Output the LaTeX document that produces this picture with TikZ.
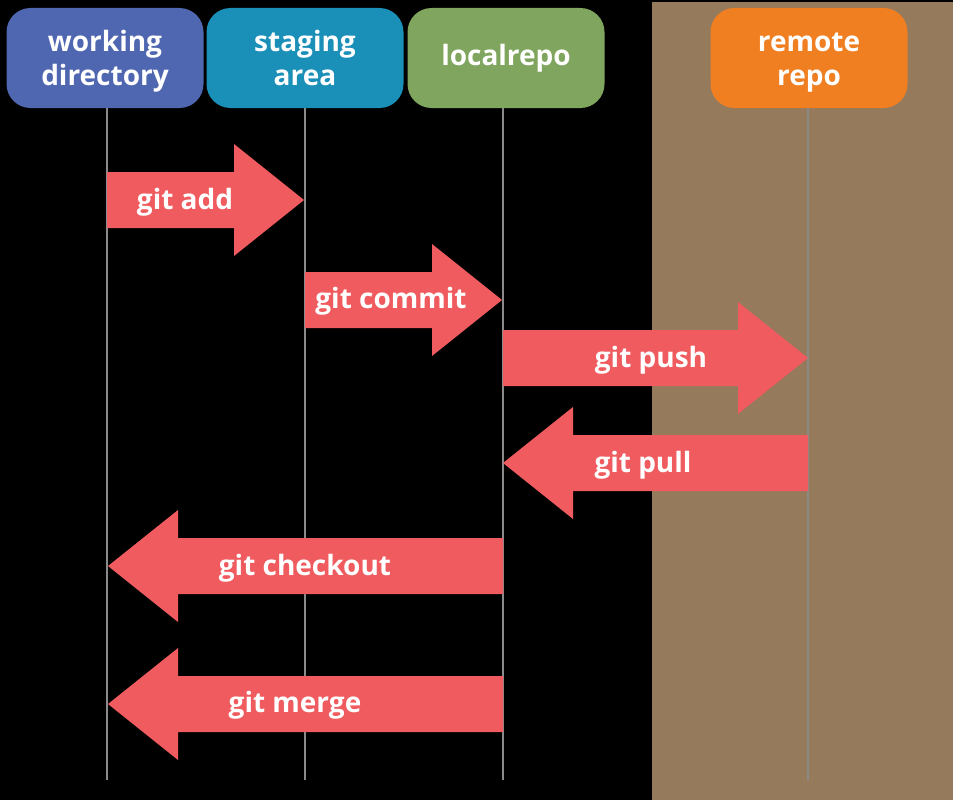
\documentclass[tikz,border=0pt]{standalone}
\usepackage{fontspec}
\setmainfont{Open Sans}
\definecolor{wdblue}{HTML}{4F67B0}
\definecolor{stblue}{HTML}{1A8FB8}
\definecolor{lrgreen}{HTML}{80A55E}
\definecolor{rmorange}{HTML}{F07F22}
\definecolor{arrowred}{HTML}{EF5B5E}
\definecolor{brownbg}{HTML}{957A5C}
\definecolor{lanegray}{HTML}{8A8A8A}
\tikzset{
  box/.style={rounded corners=24pt, minimum width=197pt, minimum height=100pt,
    inner sep=0pt, align=center, text=white,
    font=\fontsize{28}{34}\selectfont\bfseries},
  lane/.style={draw=lanegray, line width=2.2pt},
  cmd/.style={text=white, inner sep=0pt, font=\fontsize{28}{34}\selectfont\bfseries},
  blockarrow/.style={fill=arrowred}
}
\newcommand\boxline[1]{\raisebox{0pt}[21pt][0pt]{#1}}
\newcommand\rightblock[3]{% start x, tip x, centre y
  \fill[blockarrow] (#1,#3-28) -- (#2-70,#3-28) -- (#2-70,#3-56) -- (#2,#3)
    -- (#2-70,#3+56) -- (#2-70,#3+28) -- (#1,#3+28) -- cycle;}
\newcommand\leftblock[3]{% start x, tip x, centre y
  \fill[blockarrow] (#1,#3-28) -- (#2+70,#3-28) -- (#2+70,#3-56) -- (#2,#3)
    -- (#2+70,#3+56) -- (#2+70,#3+28) -- (#1,#3+28) -- cycle;}
\begin{document}
\begin{tikzpicture}[x=1pt,y=-1pt]
\useasboundingbox (0,0) rectangle (953,800);
\fill[black] (0,0) rectangle (953,800);
\fill[brownbg] (652,2) rectangle (953,800);
% boxes
\node[box, fill=wdblue] (wd) at (105,58) {\boxline{working}\\\boxline{directory}};
\node[box, fill=stblue] (st) at (305,58) {\boxline{staging}\\\boxline{area}};
\node[box, fill=lrgreen] (lr) at (506,58) {localrepo};
\node[box, fill=rmorange] (rm) at (809,58) {\boxline{remote}\\\boxline{repo}};
% lane ends
\coordinate (wdB) at (107,780);
\coordinate (stB) at (305,780);
\coordinate (lrB) at (503,780);
\coordinate (rmB) at (808,780);
\draw[lane] (wd.south -| wdB) -- (wdB);
\draw[lane] (st.south -| stB) -- (stB);
\draw[lane] (lr.south -| lrB) -- (lrB);
\draw[lane] (rm.south -| rmB) -- (rmB);
% arrows
\rightblock{107}{304}{200}
\rightblock{305}{502}{300}
\rightblock{503}{808}{358}
\leftblock{808}{503}{463}
\leftblock{503}{108}{566}
\leftblock{503}{108}{704}
% labels
\node[cmd] (add) at (185,202) {git add};
\node[cmd] (commit) at (391,301) {git commit};
\node[cmd] (push) at (651,360) {git push};
\node[cmd] (pull) at (643,465) {git pull};
\node[cmd] (checkout) at (305,568) {git checkout};
\node[cmd] (merge) at (295,705) {git merge};
\end{tikzpicture}
\end{document}
